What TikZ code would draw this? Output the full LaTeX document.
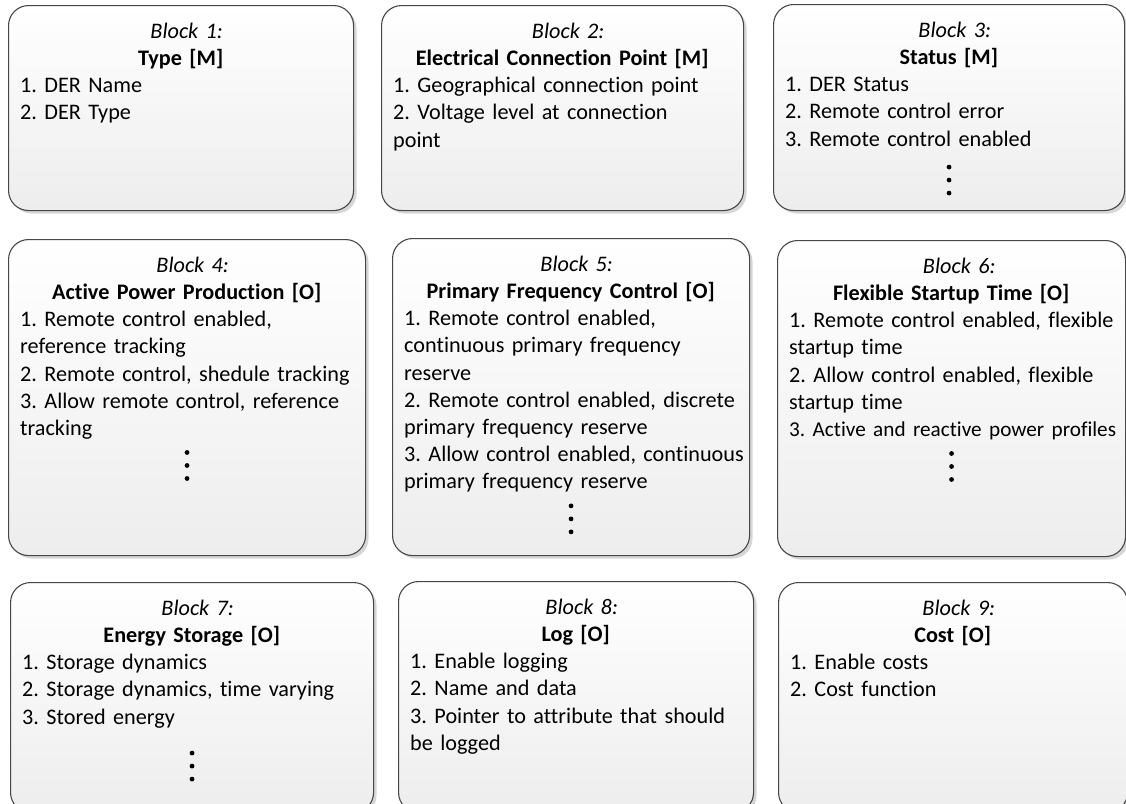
\documentclass[tikz,border=0pt]{standalone}
\usepackage{fontspec}
\setmainfont{Carlito}[Ligatures={NoCommon}]
\usetikzlibrary{shadows,calc}
\setlength{\parindent}{0pt}
\frenchspacing
\definecolor{edgegray}{HTML}{474747}
\definecolor{lowgray}{HTML}{EDEDED}
% heading of a block: italic number, bold title, both centred
\newcommand{\blkhead}[3][12pt]{{\centering\textit{Block #2:}\hspace*{#1}\\\textbf{#3}\hspace*{#1}\par}\raggedright}

\begin{document}
\begin{tikzpicture}[x=1pt, y=-1pt,
	blockbox/.style={draw=edgegray, line width=1.1pt, rounded corners=20pt, anchor=north west, inner sep=0pt,
		top color=white, bottom color=lowgray,
		drop shadow={shadow xshift=3pt, shadow yshift=-3pt, fill=black!16, opacity=1}},
	blocktext/.style={anchor=north west, inner sep=0pt, font=\fontsize{22.2}{27.2}\selectfont}]
	\useasboundingbox (0,0) rectangle (1126,803);
	\clip (0,0) rectangle (1126,803);
	% the nine boxes: name/left/top/right/bottom
	\foreach \n/\l/\t/\r/\b in {1/8/5/353/210, 2/381/5/743/210, 3/773/4/1124/210,
		4/8/239/365/555, 5/392/238/749/555, 6/777/240/1125/556,
		7/10/582/373/812, 8/398/581/753/812, 9/778/582/1127/812} {
		\node[blockbox, minimum width={\r-\l}, minimum height={\b-\t}] (b\n) at (\l,\t) {};
	}
	% texts
	\node[blocktext, text width=333] (t1) at ([xshift=12pt, yshift=-17.6pt]b1.north west)
		{\blkhead{1}{Type [M]}1. DER Name\\2. DER Type};
	\node[blocktext, text width=350] (t2) at ([xshift=12pt, yshift=-17.6pt]b2.north west)
		{\blkhead{2}{Electrical Connection Point [M]}1. Geographical connection point\\2. Voltage level at connection\\point};
	\node[blocktext, text width=339] (t3) at ([xshift=12pt, yshift=-17.6pt]b3.north west)
		{\blkhead{3}{Status [M]}1. DER Status\\2. Remote control error\\3. Remote control enabled\strut};
	\node[blocktext, text width=345] (t4) at ([xshift=12pt, yshift=-17.6pt]b4.north west)
		{\blkhead{4}{Active Power Production [O]}1. Remote control enabled,\\reference tracking\\2. Remote control, shedule tracking\\3. Allow remote control, reference\\tracking\strut};
	\node[blocktext, text width=345] (t5) at ([xshift=12pt, yshift=-17.6pt]b5.north west)
		{\blkhead{5}{Primary Frequency Control [O]}1. Remote control enabled,\\continuous primary frequency\\reserve\\2. Remote control enabled, discrete\\primary frequency reserve\\3. Allow control enabled, continuous\\primary frequency reserve\strut};
	\node[blocktext, text width=340] (t6) at ([xshift=12pt, yshift=-17.6pt]b6.north west)
		{\blkhead[16pt]{6}{Flexible Startup Time [O]}1. Remote control enabled, flexible\\startup time\\2. Allow control enabled, flexible\\startup time\\{\fontsize{21.2}{27.2}\selectfont 3. Active and reactive power profiles}\strut};
	\node[blocktext, text width=351] (t7) at ([xshift=12pt, yshift=-17.6pt]b7.north west)
		{\blkhead{7}{Energy Storage [O]}1. Storage dynamics\\2. Storage dynamics, time varying\\3. Stored energy\strut};
	\node[blocktext, text width=343] (t8) at ([xshift=12pt, yshift=-17.6pt]b8.north west)
		{\blkhead{8}{Log [O]}1. Enable logging\\2. Name and data\\3. Pointer to attribute that should\\be logged};
	\node[blocktext, text width=337] (t9) at ([xshift=12pt, yshift=-17.6pt]b9.north west)
		{\blkhead{9}{Cost [O]}1. Enable costs\\2. Cost function};
	% vertical dots under the open lists
	\foreach \n/\e in {3/4, 4/0, 5/0, 6/0, 7/12} {
		\foreach \k in {0,1,2} {
			\fill ($(t\n.south -| b\n.north)+(0,8.7+\e+13*\k)$) circle (2.4pt);
		}
	}
\end{tikzpicture}
\end{document}
